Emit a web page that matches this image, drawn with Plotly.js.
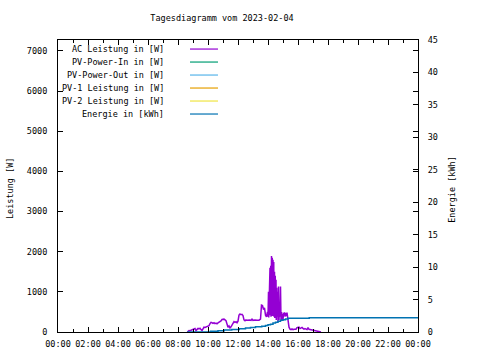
<!DOCTYPE html>
<html>
<head>
<meta charset="utf-8">
<script src="https://cdn.plot.ly/plotly-3.0.1.min.js"></script>
<style>html,body{margin:0;padding:0;background:#fff}#chart{width:480px;height:360px}</style>
</head>
<body>
<div id="chart"></div>
<script>
const DAY = "2023-02-04";
const titleText = "Tagesdiagramm vom 2023-02-04";
const yTitle = "Leistung [W]";
const y2Title = "Energie [kWh]";
const seriesNames = ["AC Leistung in [W]","PV-Power-In in [W]","PV-Power-Out in [W]","PV-1 Leistung in [W]","PV-2 Leistung in [W]","Energie in [kWh]"];
const seriesColors = ["#9400d3","#009e73","#56b4e9","#e69f00","#f0e442","#0072b2"];

// AC Leistung [W]
const acTimes = ["08:37","08:40","08:44","08:48","08:52","08:56","09:00","09:04","09:08","09:12","09:16","09:20","09:24","09:28","09:32","09:36","09:40","09:44","09:48","09:52","09:56","10:00","10:04","10:08","10:12","10:16","10:20","10:24","10:28","10:32","10:36","10:40","10:44","10:48","10:52","10:56","11:00","11:04","11:08","11:12","11:16","11:20","11:24","11:28","11:32","11:36","11:40","11:44","11:48","11:52","11:56","12:00","12:04","12:08","12:12","12:16","12:20","12:24","12:28","12:32","12:36","12:40","12:44","12:48","12:52","12:56","13:00","13:08","13:16","13:24","13:30","13:34","13:38","13:42","13:46","13:50","13:54","13:58","14:00","14:02","14:03","14:05","14:06","14:08","14:09","14:11","14:12","14:14","14:15","14:17","14:18","14:20","14:21","14:23","14:24","14:26","14:27","14:29","14:30","14:32","14:33","14:35","14:36","14:38","14:40","14:42","14:44","14:46","14:48","14:50","14:52","14:54","14:56","14:58","15:00","15:02","15:04","15:06","15:08","15:10","15:12","15:14","15:16","15:18","15:20","15:24","15:28","15:32","15:36","15:40","15:44","15:48","15:52","15:56","16:00","16:04","16:08","16:12","16:16","16:20","16:24","16:28","16:32","16:36","16:40","16:44","16:48","16:52","16:56","17:00","17:04","17:08","17:12","17:16","17:20","17:24","17:28","17:32","17:35"];
const acValues = [0,20,35,30,45,40,60,90,85,35,70,90,80,95,60,35,80,120,115,125,150,140,155,210,240,230,215,230,210,220,205,225,240,255,275,310,325,320,300,280,200,120,150,100,130,180,230,260,240,255,230,270,420,450,430,440,410,300,280,300,290,295,285,300,290,320,290,300,290,295,320,670,660,560,600,420,380,500,380,1000,360,1170,400,1600,420,1650,380,1890,450,1850,400,1800,420,1740,380,1500,350,1400,380,1300,300,1100,380,1000,250,1130,300,600,380,1130,300,500,280,450,300,480,420,490,380,470,430,400,480,350,210,120,70,60,75,60,70,65,70,110,115,120,85,110,115,90,70,85,80,60,110,65,60,55,60,40,35,30,40,35,25,15,10,0];

// Energie [kWh]
const enTimes = ["08:37","09:40","10:10","10:40","11:05","11:35","12:05","12:30","12:50","13:10","13:35","13:50","14:00","14:10","14:20","14:30","14:40","14:50","15:00","15:10","15:20","16:45","24:00"];
const enValues = [0,0,0.1,0.2,0.3,0.4,0.5,0.6,0.7,0.8,0.9,1.0,1.1,1.2,1.4,1.5,1.65,1.8,1.9,2.0,2.1,2.2,2.2];

// other series (no data on this day)
const pvInValues = [], pvOutValues = [], pv1Values = [], pv2Values = [];

const ts = t => t === "24:00" ? "2023-02-05 00:00" : DAY + " " + t;
const FONT = {family: "DejaVu Sans Mono, monospace", size: 8.5, color: "#000"};

const traces = [
  {x: acTimes.map(ts), y: acValues, name: seriesNames[0], type: "scatter", mode: "lines", line: {color: seriesColors[0], width: 1.5}},
  {x: [], y: pvInValues, name: seriesNames[1], type: "scatter", mode: "lines", line: {color: seriesColors[1], width: 1.5}},
  {x: [], y: pvOutValues, name: seriesNames[2], type: "scatter", mode: "lines", line: {color: seriesColors[2], width: 1.5}},
  {x: [], y: pv1Values, name: seriesNames[3], type: "scatter", mode: "lines", line: {color: seriesColors[3], width: 1.5}},
  {x: [], y: pv2Values, name: seriesNames[4], type: "scatter", mode: "lines", line: {color: seriesColors[4], width: 1.5}},
  {x: enTimes.map(ts), y: enValues, name: seriesNames[5], type: "scatter", mode: "lines", yaxis: "y2", line: {color: seriesColors[5], width: 1.5, shape: "hv"}}
];

// legend drawn gnuplot-style: text right-aligned, sample line to the right
const annotations = [], shapes = [];
seriesNames.forEach((n, i) => {
  const yy = 0.969 - i * 0.0445;
  annotations.push({xref: "paper", yref: "paper", x: 0.30, y: yy, xanchor: "right", yanchor: "middle", text: n, showarrow: false, font: FONT});
  shapes.push({type: "line", xref: "paper", yref: "paper", x0: 0.3667, x1: 0.4444, y0: yy, y1: yy, line: {color: seriesColors[i], width: 1.2}});
});
// axis titles (placed like gnuplot)
annotations.push({xref: "paper", yref: "paper", x: -0.133, y: 0.49, xanchor: "center", yanchor: "middle", textangle: -90, text: yTitle, showarrow: false, font: FONT});
annotations.push({xref: "paper", yref: "paper", x: 1.094, y: 0.49, xanchor: "center", yanchor: "middle", textangle: -90, text: y2Title, showarrow: false, font: FONT});

const layout = {
  width: 480, height: 360,
  margin: {l: 58, r: 62, t: 40, b: 28},
  paper_bgcolor: "#fff", plot_bgcolor: "#fff",
  showlegend: false,
  font: FONT,
  title: {text: titleText, font: FONT, x: 0.4625, xref: "container", y: 0.95, yref: "container", xanchor: "center", yanchor: "middle"},
  xaxis: {
    type: "date", range: [DAY + " 00:00", "2023-02-05 00:00"],
    tickformat: "%H:%M", dtick: 7200000, tick0: DAY + " 00:00",
    ticks: "inside", ticklen: 5, tickcolor: "#000", mirror: "ticks",
    showline: true, linecolor: "#000", linewidth: 1, showgrid: false, zeroline: false,
    minor: {dtick: 3600000, ticks: "inside", ticklen: 3, tickcolor: "#000", showgrid: false},
    tickfont: FONT, ticklabelstandoff: 4
  },
  yaxis: {
    range: [0, 7270], dtick: 1000, tick0: 0,
    ticks: "inside", ticklen: 5, tickcolor: "#000", mirror: "ticks",
    showline: true, linecolor: "#000", linewidth: 1, showgrid: false, zeroline: false,
    tickfont: FONT, ticklabelstandoff: 8
  },
  yaxis2: {
    overlaying: "y", side: "right", range: [0, 45], dtick: 5, tick0: 0,
    ticks: "inside", ticklen: 5, tickcolor: "#000",
    showline: true, linecolor: "#000", linewidth: 1, showgrid: false, zeroline: false,
    tickfont: FONT, ticklabelstandoff: 7
  },
  annotations: annotations,
  shapes: shapes
};

Plotly.newPlot("chart", traces, layout, {displayModeBar: false, staticPlot: true});
</script>
</body>
</html>
